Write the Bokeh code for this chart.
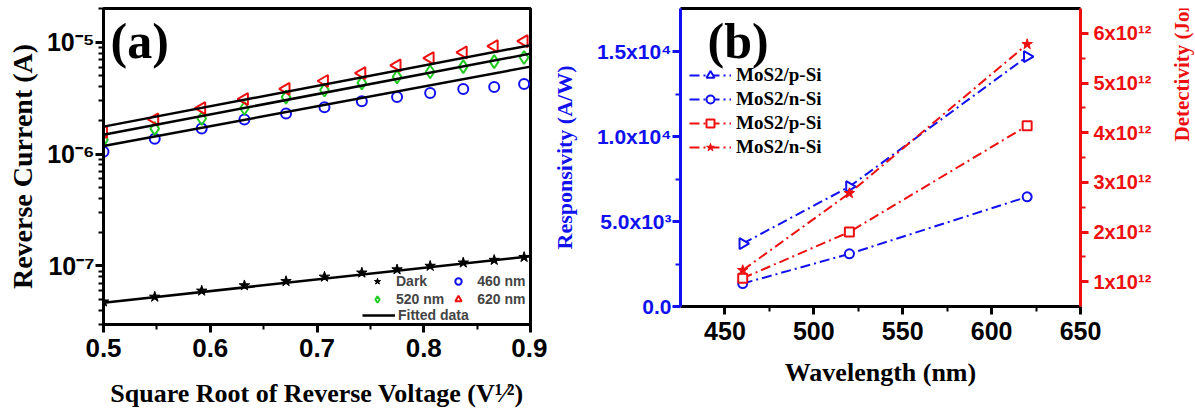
import math
from bokeh.plotting import figure
from bokeh.models import (Range1d, LinearAxis, FixedTicker, Legend, LegendItem, Label)
from bokeh.layouts import row
from bokeh.embed import file_html
from bokeh.resources import INLINE

# ---------------- data: panel (a) ----------------
sqrt_v = [0.5, 0.548, 0.592, 0.632, 0.671, 0.707, 0.742, 0.775, 0.806, 0.837, 0.866, 0.894]
i_dark = [4.8e-8, 5.3e-8, 6.0e-8, 6.7e-8, 7.3e-8, 8.0e-8, 8.7e-8, 9.3e-8, 1.0e-7, 1.07e-7, 1.13e-7, 1.2e-7]
i_460 = [1.05e-6, 1.37e-6, 1.69e-6, 2.04e-6, 2.31e-6, 2.62e-6, 2.97e-6, 3.23e-6, 3.51e-6, 3.82e-6, 3.98e-6, 4.24e-6]
i_520 = [1.34e-6, 1.69e-6, 2.08e-6, 2.57e-6, 3.23e-6, 3.74e-6, 4.33e-6, 4.9e-6, 5.45e-6, 6.05e-6, 6.7e-6, 7.3e-6]
i_620 = [1.58e-6, 2.04e-6, 2.57e-6, 3.1e-6, 3.82e-6, 4.5e-6, 5.3e-6, 6.2e-6, 7.2e-6, 8.1e-6, 9.2e-6, 1.02e-5]
fit_x = [0.5, 0.9]
fit_dark = [4.7e-8, 1.22e-7]
fit_460 = [1.18e-6, 6.05e-6]
fit_520 = [1.49e-6, 7.9e-6]
fit_620 = [1.76e-6, 9.4e-6]

a_xticks = [0.5, 0.6, 0.7, 0.8, 0.9]
a_xminor = [0.55, 0.65, 0.75, 0.85]
a_yticks = [1e-7, 1e-6, 1e-5]
a_ylabels = ["10\u207b\u2077", "10\u207b\u2076", "10\u207b\u2075"]
a_yminor = [k * 10.0 ** e for e in (-8, -7, -6, -5) for k in range(2, 10)]

# ---------------- data: panel (b) ----------------
wavelength = [460, 520, 620]
resp_p = [3.7e3, 7.05e3, 1.47e4]
resp_n = [1.35e3, 3.1e3, 6.45e3]
det_p = [1.07e12, 2.0e12, 4.14e12]
det_n = [1.23e12, 2.78e12, 5.78e12]

b_xticks = [450, 500, 550, 600, 650]
b_xminor = [475, 525, 575, 625]
b_lticks = [0, 5000, 10000, 15000]
b_llabels = ["0.0", "5.0x10\u00b3", "1.0x10\u2074", "1.5x10\u2074"]
b_lminor = [2500, 7500, 12500]
b_rticks = [1e12, 2e12, 3e12, 4e12, 5e12, 6e12]
b_rlabels = ["1x10\u00b9\u00b2", "2x10\u00b9\u00b2", "3x10\u00b9\u00b2",
             "4x10\u00b9\u00b2", "5x10\u00b9\u00b2", "6x10\u00b9\u00b2"]
b_rminor = [1.5e12, 2.5e12, 3.5e12, 4.5e12, 5.5e12]

SANS = "Liberation Sans"
SERIF = "Liberation Serif"
BLUE = "#1010f0"
RED = "#ee1010"
GREEN = "#22cc22"

# ================= panel (a) =================
p1 = figure(frame_width=427, frame_height=316, x_range=Range1d(0.5, 0.9),
            y_range=Range1d(3e-8, 2e-5), y_axis_type="log",
            output_backend="svg", toolbar_location=None,
            min_border_left=103, min_border_right=17, min_border_top=8, min_border_bottom=86)
p1.grid.visible = False
p1.outline_line_color = "black"
p1.outline_line_width = 3
p1.background_fill_color = "white"
p1.border_fill_color = "white"

xa = p1.xaxis[0]
xa.ticker = FixedTicker(ticks=a_xticks, minor_ticks=a_xminor)
ya = p1.yaxis[0]
ya.ticker = FixedTicker(ticks=a_yticks, minor_ticks=[t for t in a_yminor if 3e-8 <= t <= 2e-5])
ya.major_label_overrides = dict(zip(a_yticks, a_ylabels))
for ax in (xa, ya):
    ax.axis_line_width = 3
    ax.major_tick_line_width = 3
    ax.minor_tick_line_width = 2
    ax.major_tick_in = 0
    ax.minor_tick_in = 0
    ax.major_tick_out = 8
    ax.minor_tick_out = 5
    ax.major_label_text_font = SANS
    ax.major_label_text_font_style = "bold"
    ax.major_label_text_color = "black"
    ax.axis_label_text_font = SERIF
    ax.axis_label_text_font_style = "bold"
    ax.axis_label_text_color = "black"
xa.major_label_text_font_size = "26px"
xa.major_label_standoff = 6
xa.axis_label = "Square Root of Reverse Voltage (V\u00b9\u2044\u00b2)"
xa.axis_label_text_font_size = "26px"
xa.axis_label_standoff = 19
ya.major_label_text_font_size = "25px"
ya.major_label_standoff = 1
ya.axis_label = "Reverse Current (A)"
ya.axis_label_text_font_size = "28px"
ya.axis_label_standoff = 6

r_dark = p1.scatter(sqrt_v, i_dark, marker="star", size=11, fill_color="black",
                    line_color="black")
r_460 = p1.scatter(sqrt_v, i_460, marker="circle", size=10, fill_color=None,
                   line_color=BLUE, line_width=2)
r_520 = p1.scatter(sqrt_v, i_520, marker="diamond", size=13, fill_color=None,
                   line_color=GREEN, line_width=2)
r_620 = p1.scatter(sqrt_v, i_620, marker="triangle", angle=math.pi / 2, size=12,
                   fill_color=None, line_color=RED, line_width=2)
r_fit = None
for fy in (fit_dark, fit_460, fit_520, fit_620):
    r = p1.line(fit_x, fy, line_color="black", line_width=2.5)
    if r_fit is None:
        r_fit = r

leg_style = dict(glyph_height=16, label_height=16, spacing=2,
                 padding=0, margin=0,
                 label_text_font=SANS, label_text_font_style="bold",
                 label_text_font_size="14px",
                 border_line_color=None, background_fill_alpha=0)
leg1 = Legend(items=[LegendItem(label="Dark", renderers=[r_dark]),
                     LegendItem(label="460 nm", renderers=[r_460]),
                     LegendItem(label="520 nm", renderers=[r_520]),
                     LegendItem(label="620 nm", renderers=[r_620])],
              location=(262, 17), orientation="horizontal", ncols=2,
              glyph_width=24, label_standoff=7, **leg_style)
leg1b = Legend(items=[LegendItem(label="Fitted data", renderers=[r_fit])],
               location=(259, 1), glyph_width=33, label_standoff=3, **leg_style)
p1.add_layout(leg1)
p1.add_layout(leg1b)

p1.add_layout(Label(x=7, y=312, x_units="screen", y_units="screen", text="(a)",
                    text_align="left", text_baseline="top", text_font=SERIF,
                    text_color="black",
                    text_font_style="bold", text_font_size="50px"))

# ================= panel (b) =================
p2 = figure(frame_width=400, frame_height=298, x_range=Range1d(425, 650),
            y_range=Range1d(0, 17530),
            output_backend="svg", toolbar_location=None,
            min_border_left=133, min_border_right=90, min_border_top=8, min_border_bottom=104)
p2.grid.visible = False
p2.outline_line_color = None
p2.background_fill_color = "white"
p2.border_fill_color = "white"
p2.extra_y_ranges = {"det": Range1d(0.5e12, 6.5e12)}

bx = p2.xaxis[0]
bx.ticker = FixedTicker(ticks=b_xticks, minor_ticks=b_xminor)
bl = p2.yaxis[0]
bl.ticker = FixedTicker(ticks=b_lticks, minor_ticks=b_lminor)
bl.major_label_overrides = dict(zip(b_lticks, b_llabels))
br = LinearAxis(y_range_name="det", ticker=FixedTicker(ticks=b_rticks, minor_ticks=b_rminor))
br.major_label_overrides = dict(zip(b_rticks, b_rlabels))
p2.add_layout(br, "right")
bt = LinearAxis(ticker=FixedTicker(ticks=[450], minor_ticks=[]))
p2.add_layout(bt, "above")
for ax, col in ((bx, "black"), (bl, BLUE), (br, RED), (bt, "black")):
    ax.axis_line_width = 3
    ax.axis_line_color = col
    ax.major_tick_line_color = col
    ax.minor_tick_line_color = col
    ax.major_tick_line_width = 3
    ax.minor_tick_line_width = 2
    ax.major_tick_in = 0
    ax.minor_tick_in = 0
    ax.major_tick_out = 8
    ax.minor_tick_out = 5
    ax.major_label_text_font = SANS
    ax.major_label_text_font_style = "bold"
    ax.major_label_text_color = col
    ax.axis_label_text_font = SERIF
    ax.axis_label_text_font_style = "bold"
    ax.axis_label_text_color = col
bt.major_tick_out = 0
bt.major_tick_line_color = None
bt.major_label_text_font_size = "1px"
bt.major_label_text_color = None
bt.major_label_standoff = 0
bx.major_label_text_font_size = "25px"
bx.major_label_standoff = 7
bx.axis_label = "Wavelength (nm)"
bx.axis_label_text_font_size = "26px"
bx.axis_label_standoff = 15
bl.major_label_text_font_size = "21px"
bl.major_label_standoff = 1
bl.axis_label = "Responsivity (A/W)"
bl.axis_label_text_font_size = "22px"
bl.axis_label_standoff = 17
br.major_label_text_font_size = "20px"
br.major_label_standoff = 5

DASH = "10 4 2 4"
l_pb = p2.line(wavelength, resp_p, line_color=BLUE, line_width=2, line_dash=DASH)
m_pb = p2.scatter(wavelength, resp_p, marker="triangle", angle=-math.pi / 2, size=11,
                  fill_color="white", line_color=BLUE, line_width=2)
l_nb = p2.line(wavelength, resp_n, line_color=BLUE, line_width=2, line_dash=DASH)
m_nb = p2.scatter(wavelength, resp_n, marker="circle", size=9,
                  fill_color="white", line_color=BLUE, line_width=2)
l_pr = p2.line(wavelength, det_p, line_color=RED, line_width=2, line_dash=DASH,
               y_range_name="det")
m_pr = p2.scatter(wavelength, det_p, marker="square", size=9, y_range_name="det",
                  fill_color="white", line_color=RED, line_width=2)
l_nr = p2.line(wavelength, det_n, line_color=RED, line_width=2, line_dash=DASH,
               y_range_name="det")
m_nr = p2.scatter(wavelength, det_n, marker="star", size=11, y_range_name="det",
                  fill_color=RED, line_color=RED, line_width=1)

leg2 = Legend(items=[LegendItem(label="MoS2/p-Si", renderers=[l_pb, m_pb]),
                     LegendItem(label="MoS2/n-Si", renderers=[l_nb, m_nb]),
                     LegendItem(label="MoS2/p-Si", renderers=[l_pr, m_pr]),
                     LegendItem(label="MoS2/n-Si", renderers=[l_nr, m_nr])],
              location=(9, 148), glyph_width=42, glyph_height=20, label_height=20,
              spacing=2, label_standoff=5, padding=0, margin=0,
              label_text_font=SERIF, label_text_font_style="bold",
              label_text_font_size="19px", label_text_color="black",
              border_line_color=None, background_fill_alpha=0)
p2.add_layout(leg2)

p2.add_layout(Label(x=27, y=294, x_units="screen", y_units="screen", text="(b)",
                    text_align="left", text_baseline="top", text_font=SERIF,
                    text_color="black",
                    text_font_style="bold", text_font_size="50px"))

# ---- strip holding the right-hand (detectivity) axis title, read bottom-to-top ----
p3 = figure(width=25, height=410, x_range=Range1d(0, 1), y_range=Range1d(0, 1),
            x_axis_type=None, y_axis_type=None, output_backend="svg",
            toolbar_location=None, min_border=0)
p3.min_border_left = 0
p3.min_border_right = 0
p3.min_border_top = 0
p3.min_border_bottom = 0
p3.outline_line_color = None
p3.background_fill_color = "white"
p3.border_fill_color = "white"
p3.add_layout(Label(x=11, y=165, x_units="screen", y_units="screen",
                    text="Detectivity (Jones)", angle=math.pi / 2,
                    text_align="left", text_baseline="middle", text_font=SERIF,
                    text_font_style="bold", text_font_size="21px", text_color=RED))

layout = row(p1, p2, p3)
open("out.html", "w").write(file_html(layout, INLINE))
